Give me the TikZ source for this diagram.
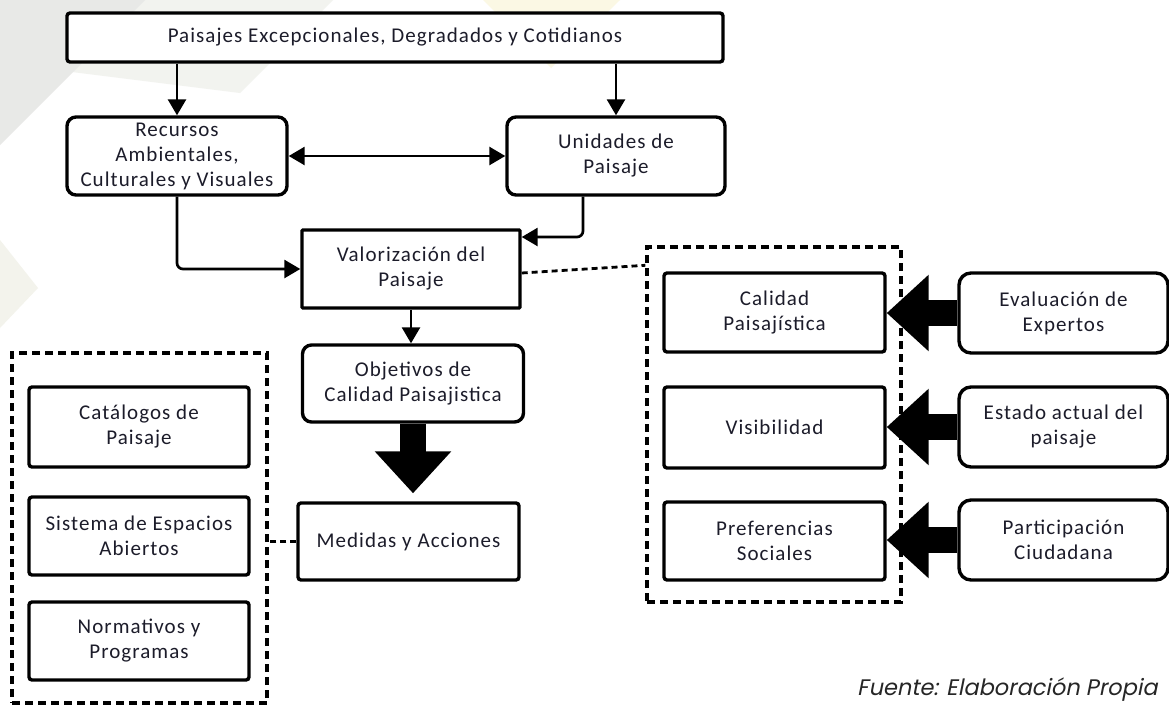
\documentclass[tikz,border=0pt]{standalone}
\usepackage{fontspec}
\setmainfont{Carlito}
\newfontfamily\boxfont[LetterSpace=5]{Carlito}
\newfontfamily\capfont[FakeSlant=0.2]{Poppins}
\usetikzlibrary{arrows.meta,calc}
\definecolor{txt}{HTML}{1C1C2A}
\definecolor{bggray}{HTML}{E8E9E7}
\definecolor{bglight}{HTML}{F2F3EF}
\definecolor{bgcream}{HTML}{F3F3EC}
\definecolor{bgyellow}{HTML}{FBF8E4}
\begin{document}
\begin{tikzpicture}[x=1pt,y=-1pt,
  nbox/.style={draw=black, line width=3.4pt, fill=white, rounded corners=3pt,
    align=center, inner sep=0pt, text=txt,
    font={\boxfont\fontsize{21}{25}\selectfont}},
  rbox/.style={nbox, rounded corners=9pt},
  grp/.style={draw=black, line width=3.4pt, dash pattern=on 8pt off 5pt, inner sep=0pt},
  arr/.style={draw=black, line width=2.7pt, -{Triangle[width=18pt,length=16pt]}},
  darr/.style={draw=black, line width=2.7pt, {Triangle[width=18pt,length=16pt]}-{Triangle[width=18pt,length=16pt]}},
  blk/.style={draw=black, line width=26pt, -{Triangle[width=74pt,length=42pt]}},
  dotline/.style={draw=black, line width=2.8pt, dash pattern=on 6pt off 4pt}
]
\useasboundingbox (0,0) rectangle (1169,707);
\fill[white] (0,0) rectangle (1169,707);
% faint background shapes
\fill[bglight] (143,0) -- (333,0) -- (240,93) -- (72,72) -- cycle;
\fill[bggray] (0,0) -- (145,0) -- (0,145) -- cycle;
\fill[bgcream] (0,240) -- (38,288) -- (0,328) -- cycle;
\fill[bgyellow] (483,0) -- (620,0) -- (551,68) -- cycle;

% groups
\node[grp, minimum width=255pt, minimum height=350pt] (lg) at (139.5,528) {};
\node[grp, minimum width=254pt, minimum height=355pt] (rg) at (774,424.5) {};

% main column
\node[nbox, minimum width=656pt, minimum height=49pt] (top) at (395,37.5)
  {Paisajes Excepcionales, Degradados y Cotidianos};
\node[rbox, minimum width=220pt, minimum height=78pt] (rec) at (177,156)
  {Recursos\\Ambientales,\\Culturales y Visuales};
\node[rbox, minimum width=218pt, minimum height=78pt] (uni) at (616,156)
  {Unidades de\\Paisaje};
\node[nbox, rounded corners=1pt, minimum width=218pt, minimum height=78pt] (val) at (411,269)
  {Valorización del\\Paisaje};
\node[rbox, minimum width=221pt, minimum height=77pt] (obj) at (413,383.5)
  {Objetivos de\\Calidad Paisajistica};
\node[nbox, minimum width=221pt, minimum height=77pt] (med) at (408.5,541.5)
  {Medidas y Acciones};

% left group boxes
\node[nbox, minimum width=220pt, minimum height=80pt] (cat) at (139,427)
  {Catálogos de\\Paisaje};
\node[nbox, minimum width=220pt, minimum height=78pt] (sis) at (139,536)
  {Sistema de Espacios\\Abiertos};
\node[nbox, minimum width=220pt, minimum height=78pt] (nor) at (139,641)
  {Normativos y\\Programas};

% right group boxes
\node[nbox, minimum width=221pt, minimum height=79pt] (cal) at (774.5,312.5)
  {Calidad\\Paisajística};
\node[nbox, minimum width=221pt, minimum height=81pt] (vis) at (774.5,427.5)
  {Visibilidad};
\node[nbox, minimum width=221pt, minimum height=78pt] (pre) at (774.5,541)
  {Preferencias\\Sociales};

% far right boxes
\node[nbox, rounded corners=12pt, minimum width=209pt, minimum height=80pt] (eva) at (1063.5,313)
  {Evaluación de\\Expertos};
\node[nbox, rounded corners=12pt, minimum width=209pt, minimum height=80pt] (est) at (1063.5,427)
  {Estado actual del\\paisaje};
\node[nbox, rounded corners=12pt, minimum width=209pt, minimum height=80pt] (par) at (1063.5,540)
  {Participación\\Ciudadana};

% connectors
\draw[arr] (rec.north |- top.south) -- (rec.north);
\draw[arr] (uni.north |- top.south) -- (uni.north);
\draw[darr] (rec.east) -- (uni.west);
\draw[arr, rounded corners=6pt] (rec.south) |- (val.west);
\draw[arr, rounded corners=6pt] ([xshift=-33pt]uni.south) |- ([yshift=32pt]val.east);
\draw[arr] (val.south) -- (val.south |- obj.north);
\draw[blk, shorten >=8pt] (obj.south) -- (obj.south |- med.north);
\draw[dotline] ([yshift=-4pt]val.east) -- ([yshift=-20pt]rg.north west);
\draw[dotline] (med.west) -- (lg.east |- med.west);
\draw[blk] (eva.west) -- (eva.west -| cal.east);
\draw[blk] (est.west) -- (est.west -| vis.east);
\draw[blk] (par.west) -- (par.west -| pre.east);

% caption
\node[anchor=base west, inner sep=0pt, text=black!85, font={\capfont\fontsize{22.5}{26}\selectfont}] (cap) at (857,695)
  {Fuente: Elaboración Propia};
\end{tikzpicture}
\end{document}
